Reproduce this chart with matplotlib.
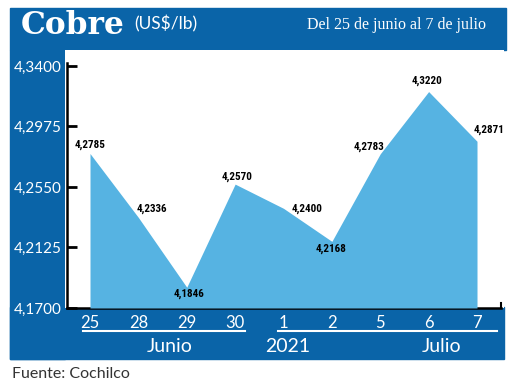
import matplotlib
matplotlib.use("Agg")
import matplotlib.pyplot as plt
import matplotlib.font_manager as fm
from matplotlib.patches import Rectangle
from matplotlib.lines import Line2D

# datos
dias = ["25", "28", "29", "30", "1", "2", "5", "6", "7"]
precios = [4.2785, 4.2336, 4.1846, 4.2570, 4.2400, 4.2168, 4.2783, 4.3220, 4.2871]
yticks = [4.1700, 4.2125, 4.2550, 4.2975, 4.3400]
meses = ["Junio", "2021", "Julio"]

# desplazamiento de las etiquetas (pixeles)
offs = [(0, 9), (14, 9), (2, -7), (2, 7), (24, 0), (-1, -7), (-11, 7), (-2, 11), (12, 11)]

azul = "#0a64a8"
celeste = "#56b3e2"
W, H = 520, 385

nombres = {f.name for f in fm.fontManager.ttflist}
angosta = next((n for n in ["Liberation Sans Narrow", "Roboto Condensed",
                            "Open Sans Condensed", "DejaVu Sans Condensed"]
                if n in nombres), "DejaVu Sans")

def fx(x):
    return x / W

def fy(y):
    return 1 - y / H

fig = plt.figure(figsize=(5.2, 3.85), dpi=100)
fig.patch.set_facecolor("white")

# bandas azules
for x0, y0, x1, y1 in [(10, 8, 506, 50), (10, 50, 65, 359), (10, 307, 504, 359)]:
    fig.patches.append(Rectangle((fx(x0), fy(y1)), fx(x1) - fx(x0), fy(y0) - fy(y1),
                                 transform=fig.transFigure, color=azul, zorder=-5))

ax = fig.add_axes([fx(65), fy(308), fx(504) - fx(65), fy(50) - fy(308)])
ax.set_facecolor("white")

x = list(range(len(dias)))
ax.fill_between(x, precios, 4.17, color=celeste, lw=0, zorder=3)
ax.set_xlim(-0.517, 8.558)
ax.set_ylim(4.17, 4.3512)

for xi, yi, (dx, dy) in zip(x, precios, offs):
    ax.annotate(f"{yi:.4f}".replace(".", ","), (xi, yi), xytext=(dx * 0.72, dy * 0.72),
                textcoords="offset points", ha="center", va="center", fontsize=8,
                fontweight="bold", fontstretch="condensed", family=angosta,
                color="black", zorder=5)

for s in ["top", "right"]:
    ax.spines[s].set_visible(False)
ax.spines["left"].set_position(("data", -0.475))
ax.spines["left"].set_bounds(4.17, 4.342)
ax.spines["left"].set_linewidth(1.8)
ax.spines["bottom"].set_bounds(-0.475, 8.5)
ax.spines["bottom"].set_linewidth(1.8)
ax.axvline(8.5, 0, 0.02, color="black", lw=1.5, zorder=2)

ax.set_yticks(yticks)
ax.set_yticklabels([f"{v:.4f}".replace(".", ",") for v in yticks])
ax.tick_params(axis="y", direction="in", length=7, width=2, pad=4,
               labelcolor="white", labelsize=11)
for t in ax.get_yticklabels():
    t.set_family(["Lato", "DejaVu Sans"])

ax.set_xticks(x)
ax.set_xticklabels(dias)
ax.tick_params(axis="x", length=0, pad=5, labelcolor="white", labelsize=12)
for t in ax.get_xticklabels():
    t.set_family(["Lato", "DejaVu Sans"])

# lineas de grupo y meses
fig.add_artist(Line2D([fx(83), fx(245)], [fy(331), fy(331)], color="white", lw=1.5))
fig.add_artist(Line2D([fx(278), fx(497)], [fy(331), fy(331)], color="white", lw=1.5))
for m, px in zip(meses, [170, 288, 442]):
    fig.text(fx(px), fy(346), m, ha="center", va="center", color="white",
             fontsize=14, family=["Lato", "DejaVu Sans"])

# titulos
fig.text(fx(21), fy(34), "Cobre", ha="left", va="baseline", color="white",
         fontsize=22.5, fontweight="bold", family="DejaVu Serif")
fig.text(fx(134), fy(24), "(US$/lb)", ha="left", va="center", color="white",
         fontsize=12.5, family=["Lato", "DejaVu Sans"])
fig.text(fx(486), fy(25), "Del 25 de junio al 7 de julio", ha="right", va="center",
         color="white", fontsize=11.5, family="Liberation Serif")

fig.text(fx(12), fy(374), "Fuente: Cochilco", ha="left", va="center", color="#333333",
         fontsize=11.5, family=["Lato", "DejaVu Sans"])

fig.savefig("out.png", dpi=100)
